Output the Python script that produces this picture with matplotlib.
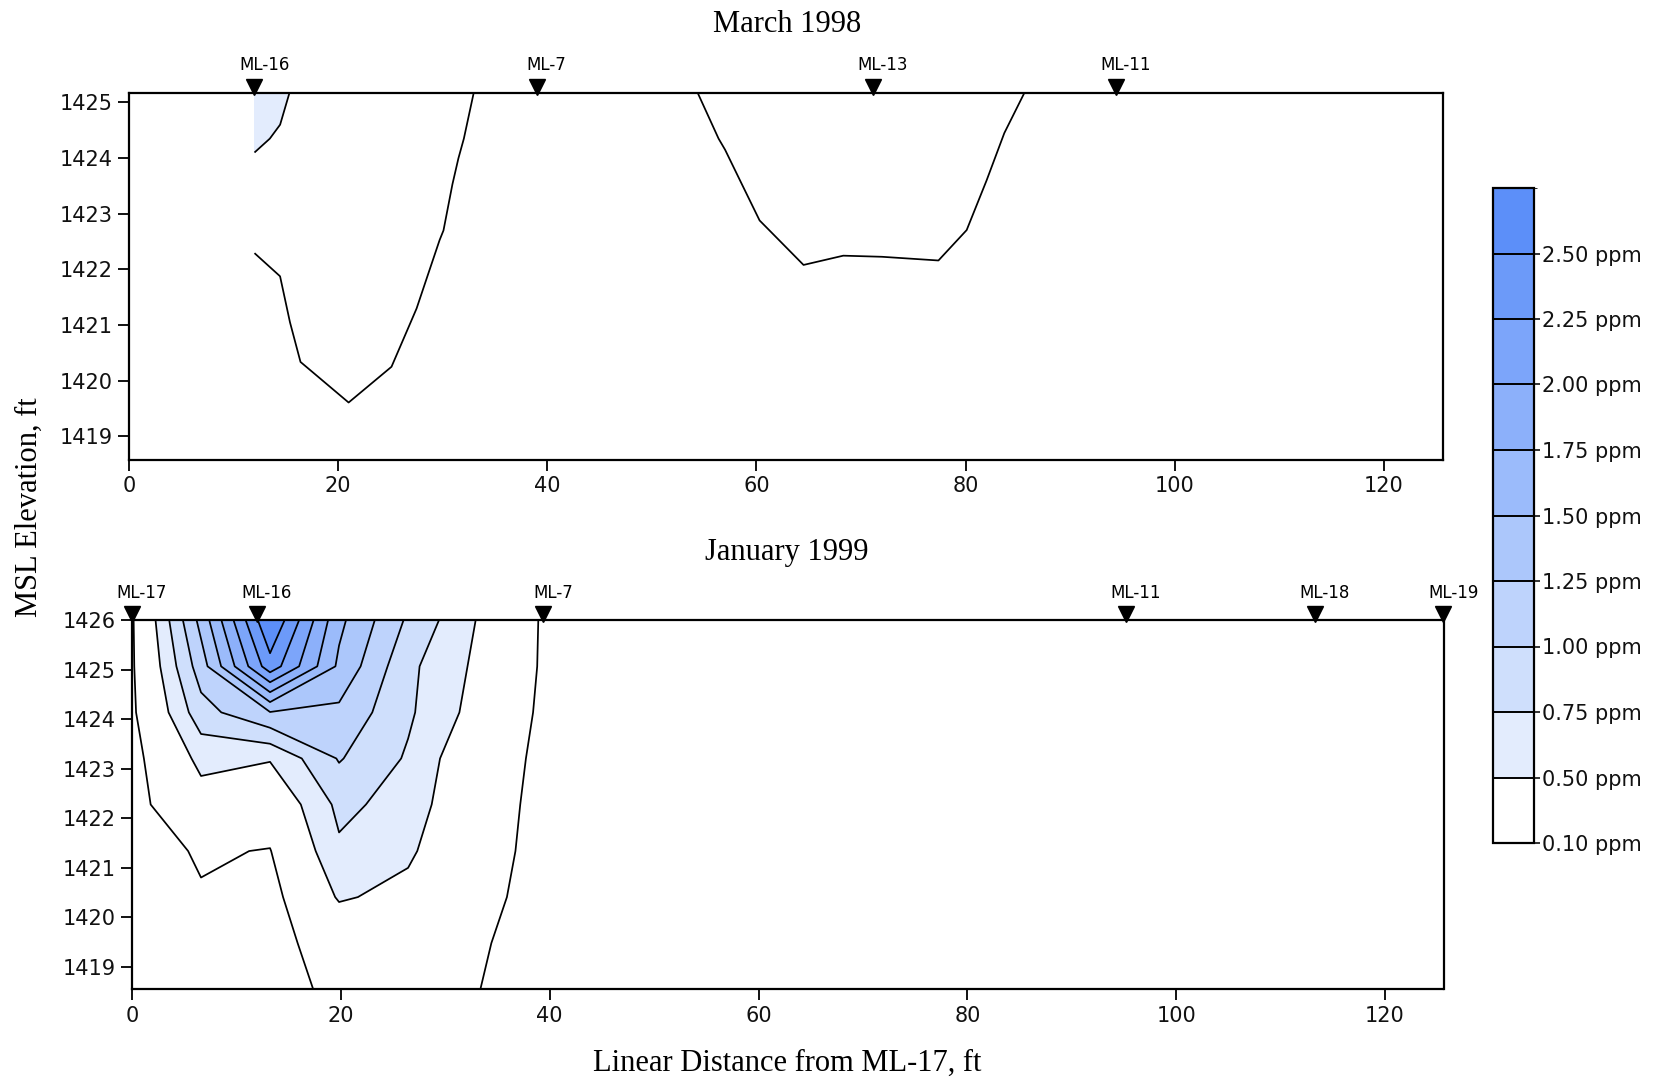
import numpy as np
import matplotlib
matplotlib.use("Agg")
import matplotlib.pyplot as plt
from matplotlib.colors import ListedColormap, BoundaryNorm
from matplotlib.colorbar import ColorbarBase
from matplotlib import transforms

# ---------------- legend / contour levels ----------------
levels = [0.10, 0.50, 0.75, 1.00, 1.25, 1.50, 1.75, 2.00, 2.25, 2.50]
level_top = 2.75
band_colors = ["#ffffff", "#e3ecfd", "#cfdffc", "#bed3fc", "#acc7fb",
               "#9bbbfb", "#8cb0fa", "#7ca5fa", "#6c9af9", "#5c8ff9"]

# ---------------- March 1998 ----------------
mar_title = "March 1998"
mar_wells = ["ML-16", "ML-7", "ML-13", "ML-11"]
mar_well_x = [12.0, 39.0, 71.1, 94.4]
mar_x = [12.0, 14.45, 16.4, 21.0, 25.1, 27.5, 29.7, 31.5, 33.0, 54.3, 57.0,
         60.3, 64.5, 68.3, 72.0, 77.4, 80.1, 82.0, 83.7, 85.7, 125.6]
mar_elev = [1425.17, 1424.35, 1423.53, 1422.70, 1421.88, 1421.05, 1420.23,
            1419.40, 1418.58]
# concentration (ppm) per distance column, listed top -> bottom
mar_conc_cols = [
    [0.740, 0.555, 0.374, 0.190, 0.009, 0.0, 0.0, 0.0, 0.0],
    [0.584, 0.463, 0.343, 0.220, 0.101, 0.0, 0.0, 0.0, 0.0],
    [0.400, 0.400, 0.400, 0.400, 0.331, 0.207, 0.084, 0.0, 0.0],
    [0.400, 0.400, 0.400, 0.400, 0.400, 0.316, 0.193, 0.069, 0.0],
    [0.400, 0.400, 0.400, 0.400, 0.345, 0.220, 0.097, 0.0, 0.0],
    [0.400, 0.400, 0.400, 0.310, 0.187, 0.063, 0.0, 0.0, 0.0],
    [0.400, 0.373, 0.250, 0.126, 0.003, 0.0, 0.0, 0.0, 0.0],
    [0.276, 0.153, 0.030, 0.0, 0.0, 0.0, 0.0, 0.0, 0.0],
    [0.095, 0.0, 0.0, 0.0, 0.0, 0.0, 0.0, 0.0, 0.0],
    [0.095, 0.0, 0.0, 0.0, 0.0, 0.0, 0.0, 0.0, 0.0],
    [0.253, 0.130, 0.007, 0.0, 0.0, 0.0, 0.0, 0.0, 0.0],
    [0.400, 0.320, 0.198, 0.073, 0.0, 0.0, 0.0, 0.0, 0.0],
    [0.400, 0.400, 0.318, 0.193, 0.070, 0.0, 0.0, 0.0, 0.0],
    [0.400, 0.400, 0.292, 0.168, 0.045, 0.0, 0.0, 0.0, 0.0],
    [0.400, 0.400, 0.295, 0.171, 0.048, 0.0, 0.0, 0.0, 0.0],
    [0.400, 0.400, 0.306, 0.181, 0.058, 0.0, 0.0, 0.0, 0.0],
    [0.400, 0.346, 0.223, 0.099, 0.0, 0.0, 0.0, 0.0, 0.0],
    [0.336, 0.213, 0.090, 0.0, 0.0, 0.0, 0.0, 0.0, 0.0],
    [0.208, 0.085, 0.0, 0.0, 0.0, 0.0, 0.0, 0.0, 0.0],
    [0.095, 0.0, 0.0, 0.0, 0.0, 0.0, 0.0, 0.0, 0.0],
    [0.0, 0.0, 0.0, 0.0, 0.0, 0.0, 0.0, 0.0, 0.0],
]
mar_yticks = [1419, 1420, 1421, 1422, 1423, 1424, 1425]
mar_ylim = (1418.58, 1425.17)

# ---------------- January 1999 ----------------
jan_title = "January 1999"
jan_wells = ["ML-17", "ML-16", "ML-7", "ML-11", "ML-18", "ML-19"]
jan_well_x = [0.0, 12.0, 39.4, 95.2, 113.3, 125.6]
jan_x = [0.0, 6.61, 13.22, 19.83, 26.44, 33.05, 39.66, 46.27, 125.6]
jan_elev = [1426.00, 1425.07, 1424.14, 1423.21, 1422.28, 1421.34, 1420.41,
            1419.48, 1418.55]
jan_conc_cols = [
    [0.07, 0.065, 0.05, 0.0, 0.0, 0.0, 0.0, 0.0, 0.0],
    [1.33, 1.13, 0.90, 0.58, 0.37, 0.123, 0.083, 0.05, 0.03],
    [2.75, 2.40, 1.24, 0.52, 0.25, 0.09, 0.0, 0.0, 0.0],
    [1.56, 1.45, 1.195, 1.02, 0.81, 0.71, 0.53, 0.25, 0.16],
    [0.96, 0.81, 0.79, 0.72, 0.656, 0.546, 0.42, 0.33, 0.25],
    [0.49, 0.45, 0.40, 0.245, 0.20, 0.20, 0.176, 0.126, 0.105],
    [0.05, 0.048, 0.03, 0.04, 0.04, 0.02, 0.0, 0.0, 0.0],
    [0.0, 0.0, 0.0, 0.0, 0.0, 0.0, 0.0, 0.0, 0.0],
    [0.0, 0.0, 0.0, 0.0, 0.0, 0.0, 0.0, 0.0, 0.0],
]
jan_yticks = [1419, 1420, 1421, 1422, 1423, 1424, 1425, 1426]
jan_ylim = (1418.55, 1426.0)

xticks = [0, 20, 40, 60, 80, 100, 120]
xlim = (0, 125.6)
xlabel = "Linear Distance from ML-17, ft"
ylabel = "MSL Elevation, ft"

# ---------------- figure ----------------
W, H = 1657, 1081
fig = plt.figure(figsize=(W / 100, H / 100), dpi=100)
fig.patch.set_facecolor("white")

fill_levels = [-1.0] + levels + [10.0]
fill_colors = ["#ffffff"] + band_colors
serif = ["Liberation Serif", "DejaVu Serif"]


def panel(rect, xs, elev, cols, ylim, yticks, wells, well_x, label_dy):
    ax = fig.add_axes(rect)
    X, Y = np.meshgrid(np.array(xs), np.array(elev))
    Z = np.array(cols, dtype=float).T
    ax.contourf(X, Y, Z, levels=fill_levels, colors=fill_colors)
    ax.contour(X, Y, Z, levels=levels, colors="k", linewidths=1.25)
    ax.set_xlim(*xlim)
    ax.set_ylim(*ylim)
    ax.set_xticks(xticks)
    ax.set_yticks(yticks)
    ax.tick_params(direction="out", length=8, width=1.4, labelsize=15, pad=4,
                   colors="#111111")
    for s in ax.spines.values():
        s.set_linewidth(1.6)
    ytop = ylim[1]
    mk_tr = transforms.offset_copy(ax.transData, fig=fig, y=4.5, units="points")
    for name, wx in zip(wells, well_x):
        ax.plot([wx], [ytop], marker="v", ms=12, color="k", clip_on=False,
                transform=mk_tr, zorder=5)
        ax.annotate(name, xy=(wx, ytop), xytext=(7, label_dy),
                    textcoords="offset points", ha="center", va="center",
                    fontsize=12, annotation_clip=False)
    return ax


ax1 = panel([129 / W, 1 - 459.7 / H, 1313.5 / W, 366.7 / H],
            mar_x, mar_elev, mar_conc_cols, mar_ylim, mar_yticks,
            mar_wells, mar_well_x, 20.5)
ax2 = panel([132 / W, 1 - 989.2 / H, 1311.5 / W, 368.9 / H],
            jan_x, jan_elev, jan_conc_cols, jan_ylim, jan_yticks,
            jan_wells, jan_well_x, 19.5)

fig.text(787 / W, 1 - 24 / H, mar_title, ha="center", va="center",
         fontsize=22, family=serif)
fig.text(787 / W, 1 - 552.5 / H, jan_title, ha="center", va="center",
         fontsize=22, family=serif)
fig.text(29.6 / W, 1 - 507 / H, ylabel, ha="center", va="center",
         rotation=90, fontsize=22, family=serif)
fig.text(787 / W, 1 - 1063 / H, xlabel, ha="center", va="center",
         fontsize=22, family=serif)

# ---------------- colour legend ----------------
cax = fig.add_axes([1493 / W, 1 - 843 / H, 41 / W, 655 / H])
bounds = levels + [level_top]
cmap = ListedColormap(band_colors)
norm = BoundaryNorm(bounds, cmap.N)
cb = ColorbarBase(cax, cmap=cmap, norm=norm, boundaries=bounds,
                  spacing="uniform", ticks=levels, drawedges=True)
cb.set_ticklabels([f"{v:.2f} ppm" for v in levels])
cb.outline.set_linewidth(1.6)
cb.dividers.set_linewidth(1.4)
cb.dividers.set_color("k")
cax.tick_params(length=4, width=1.2, labelsize=15, pad=2, colors="#111111")

fig.savefig("out.png", dpi=100, facecolor="white")
